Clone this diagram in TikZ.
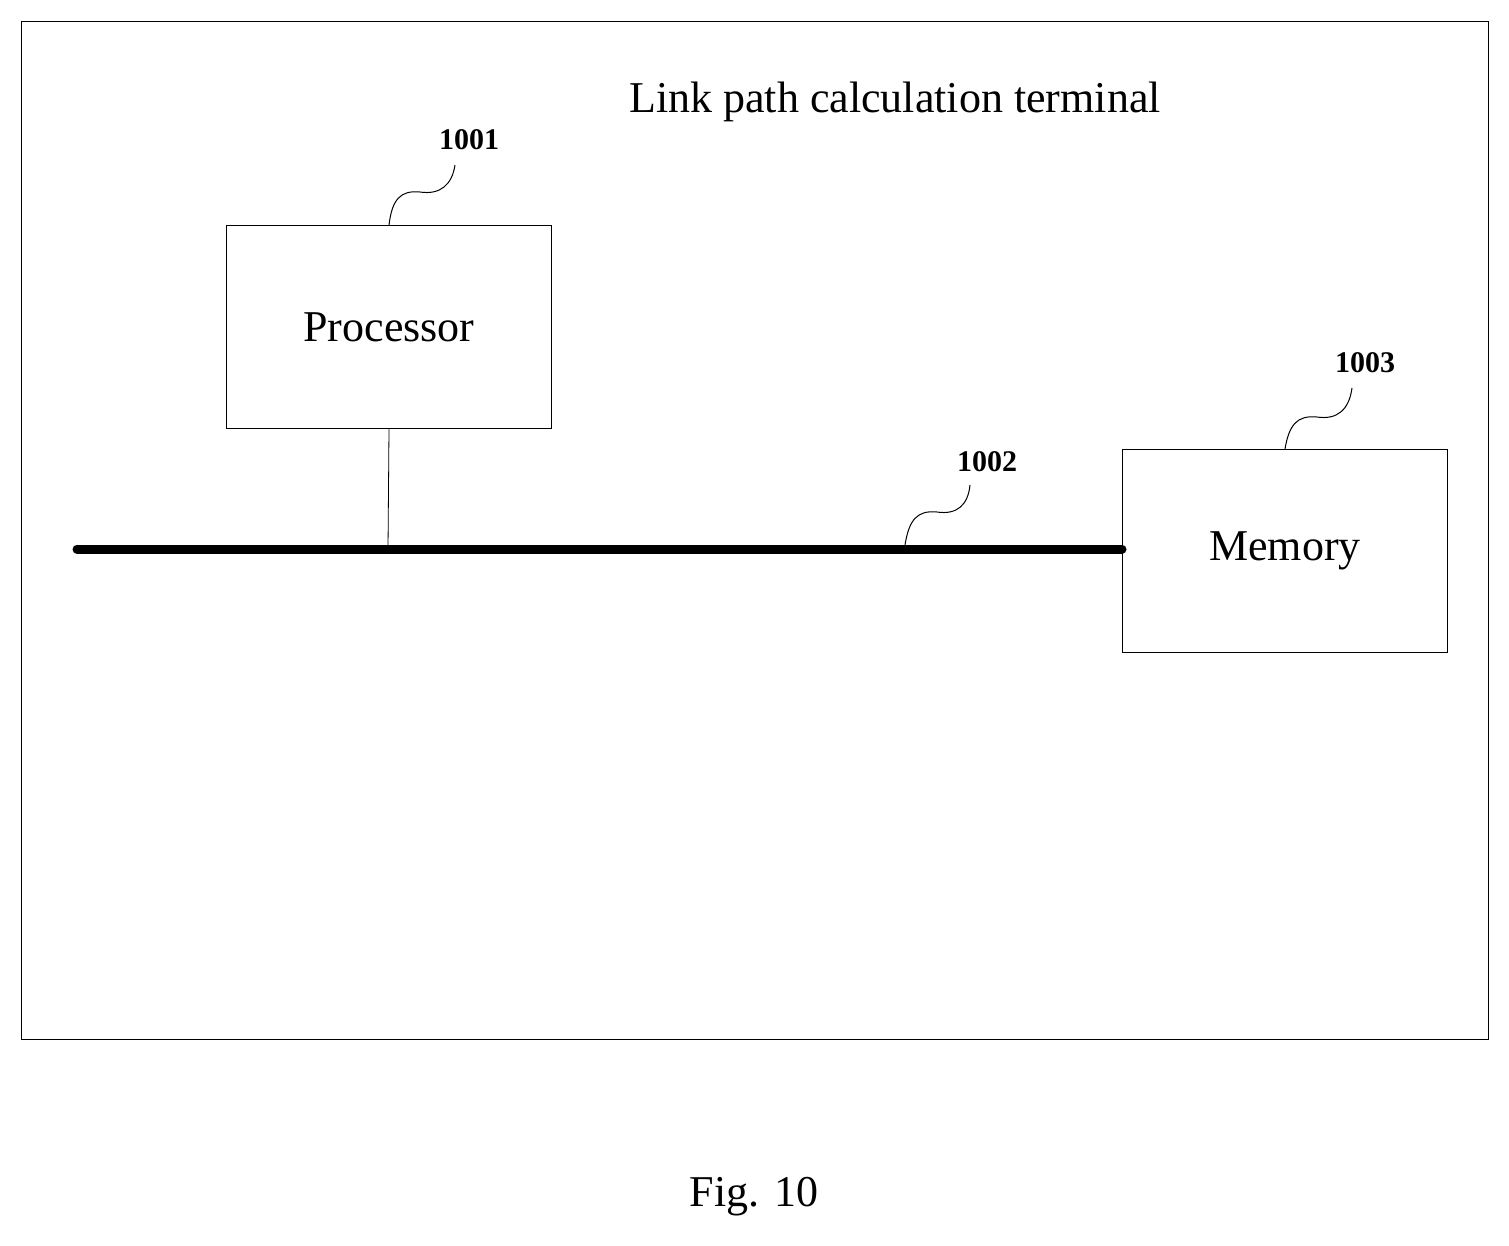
\documentclass[tikz,border=0pt]{standalone}
\usepackage{fontspec}
\setmainfont{Liberation Serif}
\begin{document}
\begin{tikzpicture}[x=1pt,y=-1pt,
 box/.style={draw,line width=1pt,inner sep=0},
 lbl/.style={font=\fontsize{30}{36}\selectfont\bfseries},
 big/.style={font=\fontsize{44}{52}\selectfont},
 sq/.style={line width=1pt}]
\useasboundingbox (0,0) rectangle (1509,1245);
\node[box,minimum width=1467pt,minimum height=1018pt,anchor=north west] (outer) at (21,21) {};
\node[big] (title) at (895,102) {Link path calculation terminal};
\node[box,minimum width=325pt,minimum height=203pt,anchor=north west,big] (proc) at (226,225) {};
\node[big] at (proc.center) {Processor};
\node[box,minimum width=325pt,minimum height=203pt,anchor=north west] (mem) at (1122,449) {};
\node[big] at (mem.center) {Memory};
\coordinate (b1) at (77,549);
\coordinate (tap) at (388,549);
\coordinate (s2) at (905,545);
\draw[line width=9pt,line cap=round] (b1) -- (mem.west |- b1);
\draw[line width=0.8pt] (proc.south) -- (tap);
\node[lbl] (l1) at (469,140) {1001};
\node[lbl] (l2) at (987,462) {1002};
\node[lbl] (l3) at (1365,363) {1003};
\draw[sq] (proc.north) .. controls (392,200) and (400,190) .. (420,192) .. controls (440,195) and (452,185) .. (455,165);
\draw[sq] (s2) .. controls (909,520) and (917,510) .. (937,512) .. controls (957,515) and (968,505) .. (970,485);
\draw[sq] (mem.north) .. controls (1289,425) and (1297,415) .. (1317,417) .. controls (1337,420) and (1349,410) .. (1352,388);
\node[big] (fig) at (754,1197) {Fig. 10};
\end{tikzpicture}
\end{document}
